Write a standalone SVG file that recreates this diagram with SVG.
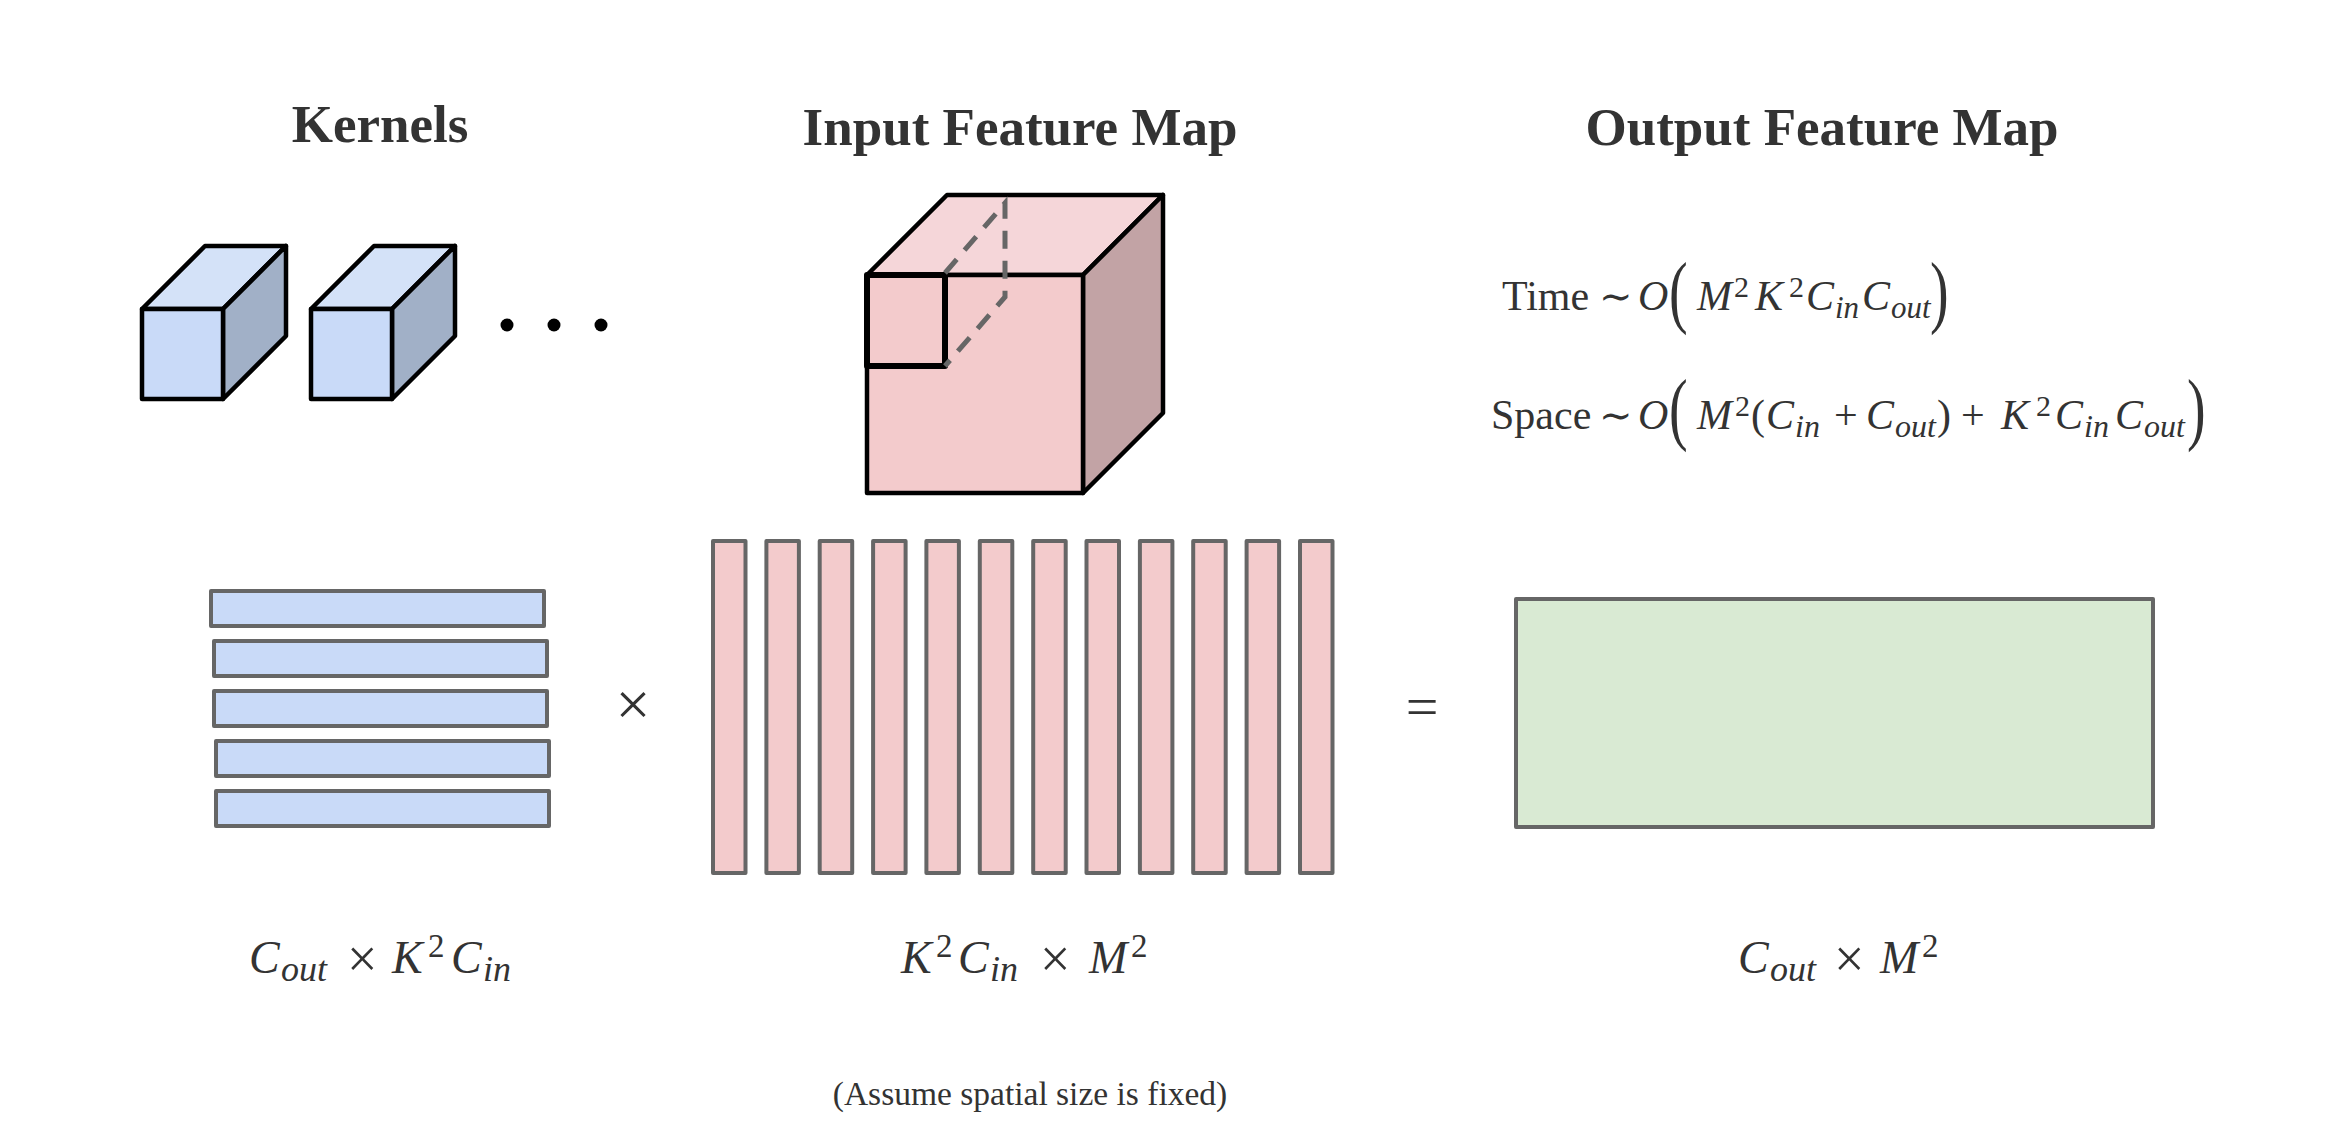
<svg xmlns="http://www.w3.org/2000/svg" width="2340" height="1130" viewBox="0 0 2340 1130">
<style>
.bg{fill:#ffffff}
.t{font-family:"Liberation Serif","Times New Roman",serif;fill:#333333}
.title{font-weight:bold;font-size:53px;text-anchor:middle}
.it{font-style:italic}
.sim{font-family:"DejaVu Serif",serif;font-size:40px}
.edge{stroke:#000000;stroke-width:4.5;stroke-linejoin:round}
.kf{fill:#c9daf8}
.kt{fill:#d4e2f8}
.ks{fill:#a1b0c7}
.pf{fill:#f3cbcc}
.pt{fill:#f5d6d9}
.ps{fill:#c2a3a5}
.bar{fill:#c9daf8;stroke:#666666;stroke-width:4;stroke-linejoin:round}
.col{fill:#f3cbcc;stroke:#666666;stroke-width:4;stroke-linejoin:round}
.out{fill:#d9ead3;stroke:#666666;stroke-width:4;stroke-linejoin:round}
.dash{fill:none;stroke:#666666;stroke-width:5;stroke-dasharray:18 12}
</style>
<rect class="bg" x="0" y="0" width="2340" height="1130"/>

<g id="titles">
<text class="t title" x="380" y="142">Kernels</text>
<text class="t title" x="1020" y="145">Input Feature Map</text>
<text class="t title" x="1822" y="145">Output Feature Map</text>
</g>

<g id="kernel-cube-1">
<polygon class="kt edge" points="142,309 205,246 286,246 223,309"/>
<polygon class="ks edge" points="223,309 286,246 286,336 223,399"/>
<rect class="kf edge" x="142" y="309" width="81" height="90"/>
</g>
<g id="kernel-cube-2">
<polygon class="kt edge" points="311,309 374,246 455,246 392,309"/>
<polygon class="ks edge" points="392,309 455,246 455,336 392,399"/>
<rect class="kf edge" x="311" y="309" width="81" height="90"/>
</g>
<g id="kernel-ellipsis">
<circle cx="507" cy="325" r="6.5" fill="#000"/>
<circle cx="554" cy="325" r="6.5" fill="#000"/>
<circle cx="601" cy="325" r="6.5" fill="#000"/>
</g>

<g id="input-cube">
<polygon class="pt edge" points="867,275 947,195 1163,195 1083,275"/>
<polygon class="ps edge" points="1083,275 1163,195 1163,413 1083,493"/>
<rect class="pf edge" x="867" y="275" width="216" height="218"/>
<rect fill="none" stroke="#000" stroke-width="6" stroke-linejoin="round" x="867" y="275" width="78" height="91"/>
<path class="dash" d="M945,273 L1005,203 L1005,297 L945,366"/>
</g>

<g id="complexity">
<text class="t" font-size="42">
<tspan x="1502" y="310">Time</tspan><tspan class="sim" x="1599" y="310">∼</tspan><tspan class="it" x="1638" y="310">O</tspan><tspan class="it" x="1697" y="310">M</tspan><tspan x="1734" y="297" font-size="30">2</tspan><tspan class="it" x="1755" y="310">K</tspan><tspan x="1789" y="297" font-size="30">2</tspan><tspan class="it" x="1806" y="310">C</tspan><tspan class="it" x="1835" y="318" font-size="31">in</tspan><tspan class="it" x="1862" y="310">C</tspan><tspan class="it" x="1891" y="318" font-size="31">out</tspan>
</text>
<text class="t" font-size="80" transform="translate(1669,318) scale(0.7,1)">(</text>
<text class="t" font-size="80" transform="translate(1930,318) scale(0.7,1)">)</text>
<text class="t" font-size="42">
<tspan x="1491" y="429">Space</tspan><tspan class="sim" x="1599" y="429">∼</tspan><tspan class="it" x="1638" y="429">O</tspan><tspan class="it" x="1697" y="429">M</tspan><tspan x="1735" y="416" font-size="30">2</tspan><tspan x="1751" y="429">(</tspan><tspan class="it" x="1766" y="429">C</tspan><tspan class="it" x="1795" y="437" font-size="32">in</tspan><tspan x="1834" y="429">+</tspan><tspan class="it" x="1866" y="429">C</tspan><tspan class="it" x="1895" y="437" font-size="32">out</tspan><tspan x="1937" y="429">)</tspan><tspan x="1961" y="429">+</tspan><tspan class="it" x="2001" y="429">K</tspan><tspan x="2036" y="416" font-size="30">2</tspan><tspan class="it" x="2055" y="429">C</tspan><tspan class="it" x="2084" y="437" font-size="32">in</tspan><tspan class="it" x="2115" y="429">C</tspan><tspan class="it" x="2144" y="437" font-size="32">out</tspan>
</text>
<text class="t" font-size="80" transform="translate(1669,435) scale(0.7,1)">(</text>
<text class="t" font-size="80" transform="translate(2187,435) scale(0.7,1)">)</text>
</g>

<g id="kernel-matrix">
<rect class="bar" x="211" y="591" width="333" height="35"/>
<rect class="bar" x="214" y="641" width="333" height="35"/>
<rect class="bar" x="214" y="691" width="333" height="35"/>
<rect class="bar" x="216" y="741" width="333" height="35"/>
<rect class="bar" x="216" y="791" width="333" height="35"/>
</g>

<g id="times-sign">
<text class="t" font-size="62" x="633" y="725" text-anchor="middle">×</text>
</g>

<g id="input-matrix">
<rect class="col" x="713" y="541" width="32.5" height="332"/>
<rect class="col" x="766.4" y="541" width="32.5" height="332"/>
<rect class="col" x="819.7" y="541" width="32.5" height="332"/>
<rect class="col" x="873.1" y="541" width="32.5" height="332"/>
<rect class="col" x="926.4" y="541" width="32.5" height="332"/>
<rect class="col" x="979.8" y="541" width="32.5" height="332"/>
<rect class="col" x="1033.2" y="541" width="32.5" height="332"/>
<rect class="col" x="1086.5" y="541" width="32.5" height="332"/>
<rect class="col" x="1139.9" y="541" width="32.5" height="332"/>
<rect class="col" x="1193.2" y="541" width="32.5" height="332"/>
<rect class="col" x="1246.6" y="541" width="32.5" height="332"/>
<rect class="col" x="1300" y="541" width="32.5" height="332"/>
</g>

<g id="equals-sign">
<text class="t" font-size="58" x="1422" y="726" text-anchor="middle">=</text>
</g>

<g id="output-matrix">
<rect class="out" x="1516" y="599" width="637" height="228"/>
</g>

<g id="dimension-labels">
<text class="t" font-size="46">
<tspan class="it" x="249" y="973">C</tspan><tspan class="it" x="281" y="981" font-size="36">out</tspan><tspan x="347" y="977" font-size="54">×</tspan><tspan class="it" x="392" y="973">K</tspan><tspan x="428" y="957" font-size="33">2</tspan><tspan class="it" x="451" y="973">C</tspan><tspan class="it" x="483" y="981" font-size="36">in</tspan>
</text>
<text class="t" font-size="46">
<tspan class="it" x="901" y="973">K</tspan><tspan x="936" y="957" font-size="33">2</tspan><tspan class="it" x="958" y="973">C</tspan><tspan class="it" x="990" y="981" font-size="36">in</tspan><tspan x="1040" y="977" font-size="54">×</tspan><tspan class="it" x="1089" y="973">M</tspan><tspan x="1131" y="957" font-size="33">2</tspan>
</text>
<text class="t" font-size="46">
<tspan class="it" x="1738" y="973">C</tspan><tspan class="it" x="1770" y="981" font-size="36">out</tspan><tspan x="1834" y="977" font-size="54">×</tspan><tspan class="it" x="1880" y="973">M</tspan><tspan x="1922" y="957" font-size="33">2</tspan>
</text>
</g>

<g id="note">
<text class="t" font-size="33.5" x="1030" y="1105" text-anchor="middle">(Assume spatial size is fixed)</text>
</g>

<g id="connectors"/>
</svg>
